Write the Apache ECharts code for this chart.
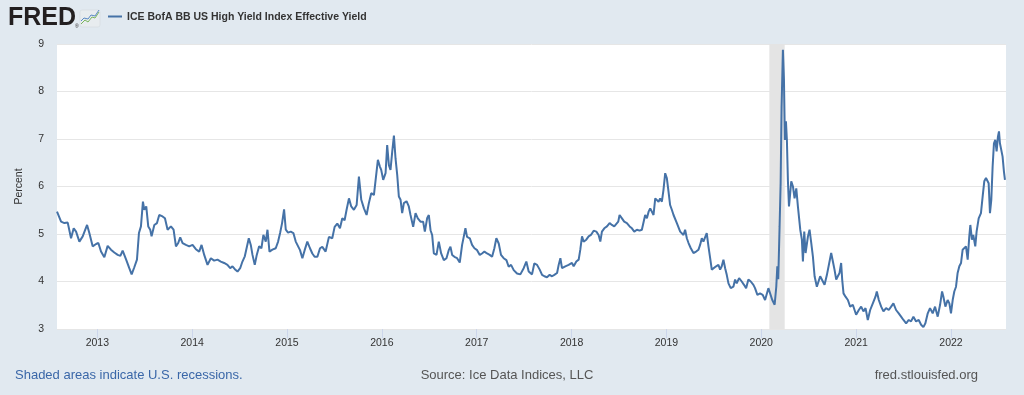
<!DOCTYPE html>
<html>
<head>
<meta charset="utf-8">
<script src="https://cdn.jsdelivr.net/npm/echarts@6/dist/echarts.min.js"></script>
<style>
html,body{margin:0;padding:0;background:#e1e9f0;}
#c{width:1024px;height:395px;}
</style>
</head>
<body>
<div id="c"></div>
<script>
// Decimal-year positions of the readings
const years = [
2012.575,2012.618,2012.653,2012.688,2012.723,2012.751,2012.776,2012.811,2012.846,2012.864,2012.892,2012.916,2012.951,2012.987,
2013.011,2013.039,2013.074,2013.109,2013.144,2013.179,2013.215,2013.243,2013.267,2013.302,2013.337,2013.362,2013.390,2013.418,
2013.439,2013.460,2013.481,2013.495,2013.516,2013.537,2013.558,2013.572,2013.601,2013.629,2013.653,2013.688,2013.713,2013.741,
2013.776,2013.804,2013.829,2013.853,2013.874,2013.899,2013.934,2013.969,
2014.004,2014.039,2014.074,2014.099,2014.127,2014.162,2014.197,2014.232,2014.267,2014.302,2014.337,2014.372,2014.401,2014.425,
2014.450,2014.478,2014.506,2014.530,2014.555,2014.576,2014.597,2014.618,2014.636,2014.660,2014.681,2014.706,2014.730,2014.751,
2014.776,2014.794,2014.815,2014.846,2014.881,2014.906,2014.927,2014.948,2014.969,2014.987,
2015.011,2015.039,2015.067,2015.092,2015.109,2015.137,2015.162,2015.186,2015.214,2015.242,2015.267,2015.291,2015.320,2015.348,
2015.372,2015.407,2015.442,2015.477,2015.502,2015.530,2015.558,2015.583,2015.607,2015.628,2015.653,2015.677,2015.705,2015.734,
2015.758,2015.783,2015.811,2015.839,2015.863,2015.888,2015.916,2015.937,2015.958,2015.979,2015.993,
2016.014,2016.039,2016.056,2016.074,2016.091,2016.109,2016.127,2016.144,2016.162,2016.179,2016.197,2016.214,2016.232,2016.260,
2016.284,2016.302,2016.330,2016.355,2016.379,2016.407,2016.435,2016.453,2016.477,2016.495,2016.513,2016.530,2016.548,2016.576,
2016.600,2016.625,2016.653,2016.681,2016.705,2016.723,2016.741,2016.765,2016.793,2016.821,2016.846,2016.863,2016.881,2016.898,
2016.927,2016.951,2016.976,
2017.004,2017.032,2017.056,2017.081,2017.109,2017.137,2017.162,2017.186,2017.207,2017.232,2017.256,2017.284,2017.313,2017.337,
2017.362,2017.390,2017.425,2017.460,2017.495,2017.523,2017.548,2017.583,2017.607,2017.636,2017.664,2017.689,2017.713,2017.741,
2017.769,2017.794,2017.818,2017.847,2017.864,2017.882,2017.899,2017.934,2017.969,
2018.004,2018.022,2018.050,2018.075,2018.092,2018.110,2018.127,2018.155,2018.180,2018.204,2018.233,2018.261,2018.285,2018.303,
2018.320,2018.345,2018.373,2018.401,2018.425,2018.450,2018.471,2018.492,2018.506,2018.531,2018.555,2018.583,2018.612,2018.636,
2018.661,2018.689,2018.717,2018.741,2018.759,2018.776,2018.794,2018.812,2018.829,2018.847,2018.864,2018.882,2018.899,2018.917,
2018.934,2018.952,2018.969,2018.987,
2019.004,2019.022,2019.039,2019.057,2019.075,2019.092,2019.110,2019.127,2019.145,2019.162,2019.180,2019.197,2019.215,2019.233,
2019.257,2019.285,2019.313,2019.338,2019.355,2019.373,2019.390,2019.408,2019.425,2019.443,2019.461,2019.478,2019.496,2019.524,
2019.548,2019.566,2019.583,2019.601,2019.619,2019.636,2019.654,2019.678,2019.706,2019.724,2019.741,2019.766,2019.794,2019.818,
2019.840,2019.864,2019.889,2019.917,2019.934,2019.959,2019.987,
2020.015,2020.040,2020.057,2020.075,2020.116,2020.141,2020.158,2020.169,2020.179,2020.193,2020.204,2020.214,2020.228,2020.239,
2020.249,2020.260,2020.270,2020.281,2020.292,2020.302,2020.316,2020.334,2020.351,2020.369,2020.386,2020.411,2020.428,2020.439,
2020.453,2020.467,2020.492,2020.509,2020.527,2020.544,2020.562,2020.586,2020.607,2020.621,2020.642,2020.667,2020.692,2020.713,
2020.737,2020.755,2020.772,2020.790,2020.807,2020.825,2020.842,2020.853,2020.867,2020.888,2020.913,2020.937,2020.965,2020.983,
2021.000,2021.028,2021.053,2021.077,2021.099,2021.123,2021.148,2021.176,2021.204,2021.218,2021.239,2021.264,2021.288,2021.316,
2021.344,2021.369,2021.393,2021.421,2021.449,2021.474,2021.499,2021.527,2021.555,2021.579,2021.604,2021.632,2021.660,2021.685,
2021.709,2021.730,2021.755,2021.779,2021.807,2021.832,2021.860,2021.885,2021.906,2021.920,2021.941,2021.965,2021.983,
2022.000,2022.018,2022.035,2022.053,2022.070,2022.088,2022.106,2022.123,2022.141,2022.158,2022.176,2022.193,2022.204,2022.221,
2022.235,2022.256,2022.270,2022.292,2022.316,2022.334,2022.351,2022.369,2022.386,2022.397,2022.411,2022.425,2022.439,2022.453,
2022.467,2022.481,2022.495,2022.506,2022.516,2022.530,2022.544,2022.558,2022.569
];
// ICE BofA BB US High Yield Index Effective Yield, percent
const yields = [
5.47,5.26,5.23,5.24,4.91,5.12,5.05,4.84,4.95,4.98,5.19,5.02,4.74,4.79,
4.81,4.63,4.51,4.75,4.67,4.61,4.56,4.54,4.65,4.47,4.28,4.15,4.30,4.46,
5.02,5.16,5.68,5.51,5.58,5.16,5.09,4.95,5.19,5.23,5.40,5.37,5.33,5.09,
5.16,5.09,4.74,4.81,4.93,4.81,4.77,4.74,
4.77,4.68,4.63,4.77,4.56,4.35,4.49,4.44,4.46,4.42,4.39,4.35,4.28,4.32,
4.26,4.21,4.28,4.42,4.53,4.51,4.91,4.77,4.56,4.35,4.56,4.74,4.70,4.98,
4.84,5.09,4.63,4.67,4.70,4.84,5.02,5.23,5.52,5.09,
5.03,5.05,5.02,4.84,4.80,4.66,4.49,4.66,4.84,4.70,4.59,4.52,4.52,4.70,
4.73,4.63,4.94,4.91,5.15,5.22,5.12,5.33,5.29,5.51,5.75,5.58,5.51,5.61,
6.21,5.72,5.54,5.40,5.65,5.86,5.82,5.79,6.56,6.42,6.35,
6.14,6.28,6.87,6.45,6.35,6.73,7.07,6.59,6.24,5.79,5.72,5.44,5.65,5.69,
5.58,5.40,5.15,5.44,5.33,5.26,5.26,5.05,5.33,5.40,5.08,4.98,4.59,4.56,
4.84,4.59,4.45,4.49,4.66,4.73,4.56,4.52,4.49,4.40,4.77,4.94,5.12,4.94,
4.91,4.77,4.70,
4.66,4.56,4.59,4.63,4.59,4.56,4.52,4.70,4.91,4.80,4.56,4.49,4.45,4.31,
4.35,4.24,4.17,4.15,4.28,4.42,4.21,4.15,4.38,4.35,4.25,4.14,4.11,4.09,
4.14,4.11,4.14,4.18,4.35,4.49,4.28,4.32,4.35,
4.39,4.32,4.42,4.46,4.67,4.95,4.84,4.88,4.95,4.98,5.07,5.05,4.98,4.84,
5.05,5.12,5.16,5.23,5.19,5.16,5.12,5.26,5.40,5.33,5.26,5.23,5.16,5.12,
5.05,5.09,5.07,5.09,5.12,5.40,5.33,5.47,5.54,5.51,5.40,5.75,5.79,5.68,
5.75,5.68,5.93,6.28,
6.18,5.89,5.61,5.51,5.40,5.44,5.23,5.19,5.05,5.09,4.98,5.09,4.91,4.81,
4.70,4.60,4.63,4.67,4.77,4.91,4.84,4.88,5.02,4.74,4.49,4.25,4.21,4.32,
4.35,4.25,4.32,4.46,4.28,4.14,3.96,3.86,3.89,4.04,3.96,4.07,4.00,3.93,
3.86,4.04,4.00,3.93,3.86,3.72,3.75,
3.72,3.61,3.58,3.86,3.61,3.51,3.89,4.32,4.05,5.16,6.07,7.68,8.88,8.25,
6.98,7.37,6.98,6.11,5.58,5.79,6.11,6.00,5.75,5.96,5.58,5.09,4.88,4.42,
5.05,4.60,4.95,5.09,4.81,4.53,4.11,3.89,3.86,4.11,4.14,3.93,4.14,4.18,
4.60,4.42,4.25,4.04,4.11,4.18,4.39,4.04,3.75,3.68,3.61,3.47,3.51,3.54,
3.30,3.40,3.47,3.37,3.44,3.19,3.40,3.54,3.68,3.79,3.61,3.47,3.37,3.44,
3.40,3.47,3.54,3.40,3.33,3.26,3.19,3.12,3.19,3.16,3.26,3.16,3.19,3.09,
3.04,3.12,3.33,3.44,3.33,3.47,3.26,3.51,3.79,3.68,3.47,3.61,3.54,
3.33,3.61,3.79,3.89,4.18,4.32,4.39,4.67,4.70,4.74,4.46,4.95,5.19,4.88,
4.98,4.74,5.05,5.33,5.44,5.79,6.11,6.18,6.21,6.07,5.44,5.72,6.42,6.91,
6.98,6.74,7.05,7.16,6.91,6.77,6.63,6.32,6.14
];
// U.S. recession periods (decimal years)
const recessions = [[2020.085, 2020.247]];
// Axis tick labels
const xTickYears = [2013,2014,2015,2016,2017,2018,2019,2020,2021,2022];
const xRange = [2012.575, 2022.58];
const yRange = [3, 9];
const seriesName = 'ICE BofA BB US High Yield Index Effective Yield';

const FONT = "'Liberation Sans', Arial, Helvetica, sans-serif";
const chart = echarts.init(document.getElementById('c'), null, {renderer: 'canvas'});
chart.setOption({
  animation: false,
  backgroundColor: '#e1e9f0',
  grid: {left: 57, right: 18, top: 44, bottom: 66, show: true, backgroundColor: '#ffffff', borderWidth: 0},
  xAxis: {
    type: 'value', min: xRange[0], max: xRange[1],
    axisLine: {show: false},
    splitLine: {show: false},
    axisTick: {show: true, customValues: xTickYears, length: 9, lineStyle: {color: '#ccd6eb', width: 1}},
    axisLabel: {customValues: xTickYears, margin: 9, fontSize: 10.5, color: '#333', fontFamily: FONT,
      formatter: v => String(Math.round(v))}
  },
  yAxis: {
    type: 'value', min: yRange[0], max: yRange[1], interval: 1,
    name: 'Percent', nameLocation: 'middle', nameGap: 32, nameRotate: 90,
    nameTextStyle: {fontSize: 10.5, color: '#333', fontFamily: FONT},
    axisLine: {show: false}, axisTick: {show: false},
    axisLabel: {margin: 13, fontSize: 10.5, color: '#333', fontFamily: FONT},
    splitLine: {lineStyle: {color: '#e6e6e6', width: 1}}
  },
  series: [{
    name: seriesName, type: 'line', showSymbol: false, symbol: 'none',
    data: years.map((y, i) => [y, yields[i]]),
    lineStyle: {color: '#4572a7', width: 2},
    itemStyle: {color: '#4572a7'},
    emphasis: {disabled: true},
    markArea: {
      silent: true,
      itemStyle: {color: '#e4e4e4'},
      data: recessions.map(r => [{xAxis: r[0]}, {xAxis: r[1]}])
    }
  }],
  graphic: [
    {type: 'text', left: 8, top: 6, style: {text: 'FRED', font: 'bold 25px ' + FONT, fill: '#231f20'}},
    {type: 'text', x: 75, y: 24, style: {text: '®', font: '5px ' + FONT, fill: '#231f20'}},
    {type: 'rect', shape: {x: 80, y: 10, width: 20, height: 17, r: 2}, style: {fill: '#e8ecef', stroke: '#d0d6db', lineWidth: 0.5}},
    {type: 'polyline', shape: {points: [[81,24],[85,20],[88,22],[92,17],[95,18],[99,12]]}, style: {stroke: '#7ab55c', lineWidth: 1, fill: null}},
    {type: 'polyline', shape: {points: [[81,21],[84,18],[88,19],[91,15],[95,16],[99,10]]}, style: {stroke: '#5b89c4', lineWidth: 1, fill: null}},
    {type: 'line', shape: {x1: 108, y1: 16.5, x2: 122, y2: 16.5}, style: {stroke: '#4572a7', lineWidth: 2}},
    {type: 'text', x: 127, y: 17, style: {text: seriesName, font: 'bold 10.5px ' + FONT, fill: '#333', textVerticalAlign: 'middle'}},
    {type: 'text', x: 15, y: 375, style: {text: 'Shaded areas indicate U.S. recessions.', font: '13px ' + FONT, fill: '#3a67a8', textVerticalAlign: 'middle'}},
    {type: 'text', x: 507, y: 375, style: {text: 'Source: Ice Data Indices, LLC', font: '13px ' + FONT, fill: '#555', textAlign: 'center', textVerticalAlign: 'middle'}},
    {type: 'text', x: 978, y: 375, style: {text: 'fred.stlouisfed.org', font: '13px ' + FONT, fill: '#555', textAlign: 'right', textVerticalAlign: 'middle'}}
  ]
});
</script>
</body>
</html>
